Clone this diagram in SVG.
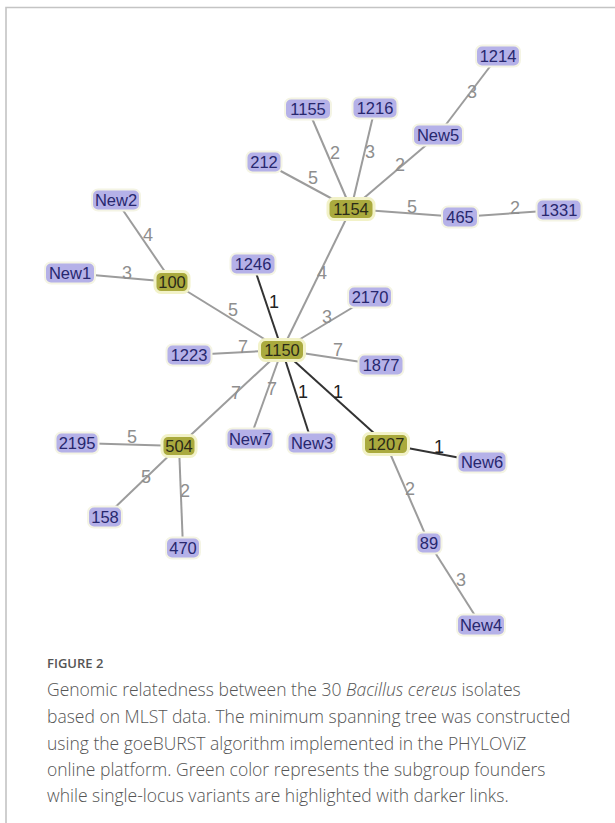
<svg xmlns="http://www.w3.org/2000/svg" width="615" height="823" viewBox="0 0 615 823">
<style>
.frame{fill:none;stroke:#c4c4c4;stroke-width:1.6}
.e{stroke:#9c9c9c;stroke-width:2;fill:none}
.d{stroke:#333333;stroke-width:2;fill:none}
.el{font-family:"Liberation Sans",Arial,sans-serif;font-size:18px;fill:#8e8e8e;text-anchor:middle}
.dl{font-family:"Liberation Sans",Arial,sans-serif;font-size:18px;fill:#222222;text-anchor:middle}
.p rect{fill:#b5b1e8;stroke:#f4f4e4;stroke-width:2}
.g rect{fill:#aaaa3e;stroke:#f2f2c8;stroke-width:3}
.p text{font-family:"Liberation Sans",Arial,sans-serif;font-size:16.5px;fill:#27276e;text-anchor:middle}
.g text{font-family:"Liberation Sans",Arial,sans-serif;font-size:16.5px;fill:#2a2a18;text-anchor:middle}
.cap{font-family:"Open Sans","Liberation Sans",sans-serif;font-size:17.5px;font-weight:300;fill:#555555}
.fig{font-family:"Open Sans","Liberation Sans",sans-serif;font-size:13px;font-weight:600;fill:#555555}
</style>
<rect width="615" height="823" fill="#ffffff"/>
<path class="frame" d="M615 7.5 H6 V823"/>
<g id="connectors">
<line class="e" x1="438" y1="135" x2="498" y2="56"/>
<line class="e" x1="351" y1="209" x2="308" y2="109"/>
<line class="e" x1="351" y1="209" x2="375" y2="108"/>
<line class="e" x1="351" y1="209" x2="438" y2="135"/>
<line class="e" x1="351" y1="209" x2="264" y2="162"/>
<line class="e" x1="351" y1="209" x2="460" y2="217"/>
<line class="e" x1="460" y1="217" x2="559" y2="210"/>
<line class="e" x1="282" y1="350" x2="351" y2="209"/>
<line class="e" x1="116" y1="200" x2="172" y2="282"/>
<line class="e" x1="70" y1="273" x2="172" y2="282"/>
<line class="e" x1="172" y1="282" x2="282" y2="350"/>
<line class="d" x1="253" y1="264" x2="282" y2="350"/>
<line class="e" x1="370" y1="297" x2="282" y2="350"/>
<line class="e" x1="189" y1="355" x2="282" y2="350"/>
<line class="e" x1="381" y1="365" x2="282" y2="350"/>
<line class="e" x1="179" y1="446" x2="282" y2="350"/>
<line class="e" x1="250" y1="439" x2="282" y2="350"/>
<line class="d" x1="312" y1="443" x2="282" y2="350"/>
<line class="d" x1="386" y1="444" x2="282" y2="350"/>
<line class="e" x1="77" y1="443" x2="179" y2="446"/>
<line class="e" x1="105" y1="517" x2="179" y2="446"/>
<line class="e" x1="183" y1="548" x2="179" y2="446"/>
<line class="d" x1="386" y1="444" x2="482" y2="462"/>
<line class="e" x1="386" y1="444" x2="429" y2="543"/>
<line class="e" x1="429" y1="543" x2="481" y2="625"/>
<text class="el" x="472" y="98">3</text>
<text class="el" x="335" y="159">2</text>
<text class="el" x="370" y="158">3</text>
<text class="el" x="400" y="171">2</text>
<text class="el" x="313" y="184">5</text>
<text class="el" x="412" y="213">5</text>
<text class="el" x="515" y="214">2</text>
<text class="el" x="322" y="279">4</text>
<text class="el" x="148" y="241">4</text>
<text class="el" x="127" y="279">3</text>
<text class="el" x="233" y="316">5</text>
<text class="dl" x="274" y="308">1</text>
<text class="el" x="327" y="323">3</text>
<text class="el" x="243" y="353">7</text>
<text class="el" x="338" y="356">7</text>
<text class="el" x="236" y="399">7</text>
<text class="el" x="272" y="395">7</text>
<text class="dl" x="303" y="398">1</text>
<text class="dl" x="338" y="398">1</text>
<text class="el" x="132" y="443">5</text>
<text class="el" x="146" y="483">5</text>
<text class="el" x="185" y="497">2</text>
<text class="dl" x="439" y="453">1</text>
<text class="el" x="410" y="495">2</text>
<text class="el" x="461" y="586">3</text>
</g>
<g id="n1214" class="p"><rect x="476" y="45.5" width="44" height="21" rx="6"/><text x="498" y="62">1214</text></g>
<g id="n1155" class="p"><rect x="285" y="98.5" width="46" height="21" rx="6"/><text x="308" y="115">1155</text></g>
<g id="n1216" class="p"><rect x="352.5" y="97.5" width="45" height="21" rx="6"/><text x="375" y="114">1216</text></g>
<g id="nNew5" class="p"><rect x="413" y="124.5" width="50" height="21" rx="6"/><text x="438" y="141">New5</text></g>
<g id="n212" class="p"><rect x="246.5" y="151.5" width="35" height="21" rx="6"/><text x="264" y="168">212</text></g>
<g id="n1154" class="g"><rect x="328" y="198.5" width="46" height="21" rx="6"/><text x="351" y="215">1154</text></g>
<g id="n465" class="p"><rect x="442" y="206.5" width="36" height="21" rx="6"/><text x="460" y="223">465</text></g>
<g id="n1331" class="p"><rect x="536.5" y="199.5" width="45" height="21" rx="6"/><text x="559" y="216">1331</text></g>
<g id="nNew2" class="p"><rect x="92" y="189.5" width="48" height="21" rx="6"/><text x="116" y="206">New2</text></g>
<g id="nNew1" class="p"><rect x="45" y="262.5" width="50" height="21" rx="6"/><text x="70" y="279">New1</text></g>
<g id="n100" class="g"><rect x="155" y="271.5" width="34" height="21" rx="6"/><text x="172" y="288">100</text></g>
<g id="n1246" class="p"><rect x="230.5" y="253.5" width="45" height="21" rx="6"/><text x="253" y="270">1246</text></g>
<g id="n2170" class="p"><rect x="348" y="286.5" width="44" height="21" rx="6"/><text x="370" y="303">2170</text></g>
<g id="n1150" class="g"><rect x="259.5" y="339.5" width="45" height="21" rx="6"/><text x="282" y="356">1150</text></g>
<g id="n1223" class="p"><rect x="166.5" y="344.5" width="45" height="21" rx="6"/><text x="189" y="361">1223</text></g>
<g id="n1877" class="p"><rect x="358.5" y="354.5" width="45" height="21" rx="6"/><text x="381" y="371">1877</text></g>
<g id="n2195" class="p"><rect x="55.5" y="432.5" width="43" height="21" rx="6"/><text x="77" y="449">2195</text></g>
<g id="n504" class="g"><rect x="162" y="435.5" width="34" height="21" rx="6"/><text x="179" y="452">504</text></g>
<g id="nNew7" class="p"><rect x="226.5" y="428.5" width="47" height="21" rx="6"/><text x="250" y="445">New7</text></g>
<g id="nNew3" class="p"><rect x="287.5" y="432.5" width="49" height="21" rx="6"/><text x="312" y="449">New3</text></g>
<g id="n1207" class="g"><rect x="363.5" y="433.5" width="45" height="21" rx="6"/><text x="386" y="450">1207</text></g>
<g id="nNew6" class="p"><rect x="457.5" y="451.5" width="49" height="21" rx="6"/><text x="482" y="468">New6</text></g>
<g id="n158" class="p"><rect x="88" y="506.5" width="34" height="21" rx="6"/><text x="105" y="523">158</text></g>
<g id="n470" class="p"><rect x="166" y="537.5" width="34" height="21" rx="6"/><text x="183" y="554">470</text></g>
<g id="n89" class="p"><rect x="416.5" y="532.5" width="25" height="21" rx="6"/><text x="429" y="549">89</text></g>
<g id="nNew4" class="p"><rect x="457" y="614.5" width="48" height="21" rx="6"/><text x="481" y="631">New4</text></g>
<g id="caption">
<text class="fig" x="47" y="668">FIGURE 2</text>
<text class="cap" x="47" y="696">Genomic relatedness between the 30 <tspan font-style="italic">Bacillus cereus</tspan> isolates</text>
<text class="cap" x="47" y="723">based on MLST data. The minimum spanning tree was constructed</text>
<text class="cap" x="47" y="750">using the goeBURST algorithm implemented in the PHYLOViZ</text>
<text class="cap" x="47" y="776">online platform. Green color represents the subgroup founders</text>
<text class="cap" x="47" y="802">while single-locus variants are highlighted with darker links.</text>
</g>
</svg>
